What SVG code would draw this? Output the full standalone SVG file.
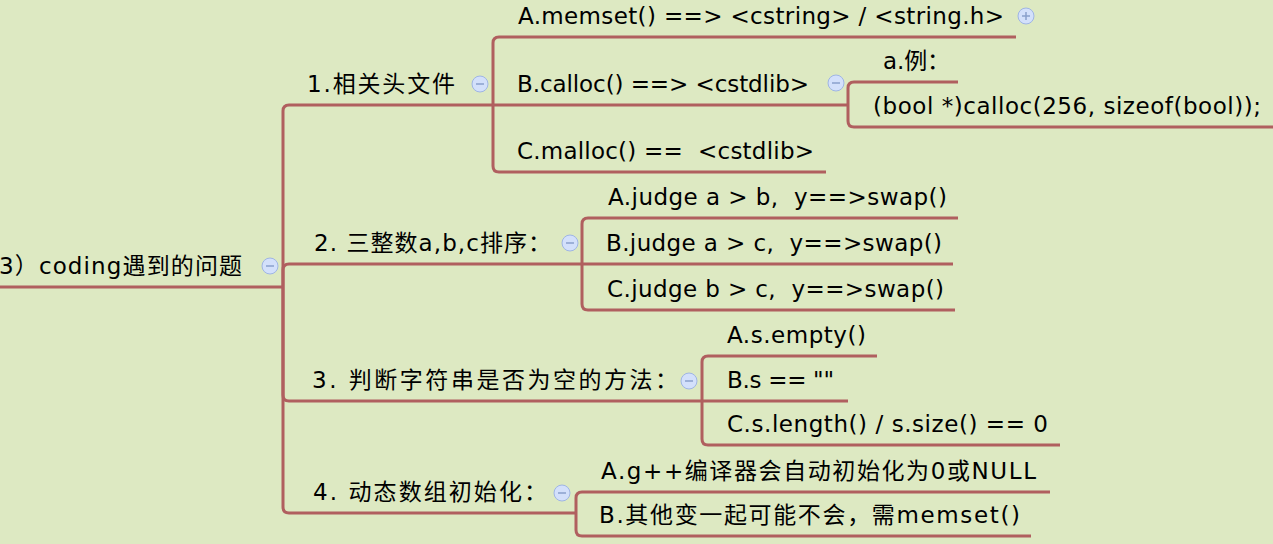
<svg xmlns="http://www.w3.org/2000/svg" width="1273" height="544" viewBox="0 0 1273 544">
<style>
.bg{fill:#dde9c2}
.ln{fill:none;stroke:#b05f5f;stroke-width:3;stroke-linecap:butt}
.t{font-family:"DejaVu Sans","Noto Sans CJK SC",sans-serif;font-size:23px;fill:#000;white-space:pre}
.ic{fill:#d3e0fb;stroke:#9fb5e4;stroke-width:1}
.im{stroke:#8aa0cc;stroke-width:1.5;fill:none}
</style>
<defs>
<g id="minus"><circle class="ic" cx="0" cy="0" r="8"/><path class="im" d="M-4,0H4"/></g>
<g id="plus"><circle class="ic" cx="0" cy="0" r="8"/><path class="im" d="M-4,0H4M0,-4V4"/></g>
</defs>
<rect class="bg" x="0" y="0" width="1273" height="544"/>

<g id="connectors">
<path class="ln" d="M283,287 V111 Q283,105 289,105"/>
<path class="ln" d="M283,287 V270 Q283,264 289,264"/>
<path class="ln" d="M283,287 V395 Q283,401 289,401"/>
<path class="ln" d="M283,287 V507 Q283,513 289,513"/>
<path class="ln" d="M493,105 V43 Q493,37 499,37"/>
<path class="ln" d="M493,105 V166 Q493,172 499,172"/>
<path class="ln" d="M848,105 V88 Q848,82 854,82"/>
<path class="ln" d="M848,105 V121 Q848,127 854,127"/>
<path class="ln" d="M582,264 V224 Q582,218 588,218"/>
<path class="ln" d="M582,264 V304 Q582,310 588,310"/>
<path class="ln" d="M702,401 V362 Q702,356 708,356"/>
<path class="ln" d="M702,401 V439 Q702,445 708,445"/>
<path class="ln" d="M576,513 V498 Q576,492 582,492"/>
<path class="ln" d="M576,513 V530 Q576,536 582,536"/>
</g>

<g id="root">
<path class="ln" d="M0,287 H283"/>
<text class="t" x="-1" y="274" textLength="243">3）coding遇到的问题</text>
<use href="#minus" x="270" y="266"/>
</g>

<g id="n1">
<path class="ln" d="M289,105 H493"/>
<text class="t" x="307" y="92" textLength="148">1.相关头文件</text>
<use href="#minus" x="480" y="84"/>
</g>
<g id="n1a">
<path class="ln" d="M499,37 H1016"/>
<text class="t" x="518" y="24" textLength="486">A.memset() ==&gt; &lt;cstring&gt; / &lt;string.h&gt;</text>
<use href="#plus" x="1026" y="16"/>
</g>
<g id="n1b">
<path class="ln" d="M493,105 H848"/>
<text class="t" x="517" y="92" textLength="292">B.calloc() ==&gt; &lt;cstdlib&gt;</text>
<use href="#minus" x="836" y="83"/>
</g>
<g id="n1b1">
<path class="ln" d="M854,82 H958"/>
<text class="t" x="883" y="69" textLength="67">a.例：</text>
</g>
<g id="n1b2">
<path class="ln" d="M854,127 H1273"/>
<text class="t" x="873" y="114" textLength="388">(bool *)calloc(256, sizeof(bool));</text>
</g>
<g id="n1c">
<path class="ln" d="M499,172 H826"/>
<text class="t" x="517" y="159" textLength="297">C.malloc() ==  &lt;cstdlib&gt;</text>
</g>

<g id="n2">
<path class="ln" d="M289,264 H582"/>
<text class="t" x="314" y="251" textLength="237">2. 三整数a,b,c排序：</text>
<use href="#minus" x="570" y="243"/>
</g>
<g id="n2a">
<path class="ln" d="M588,218 H958"/>
<text class="t" x="608" y="205" textLength="339">A.judge a &gt; b,  y==&gt;swap()</text>
</g>
<g id="n2b">
<path class="ln" d="M582,264 H953"/>
<text class="t" x="606" y="251" textLength="336">B.judge a &gt; c,  y==&gt;swap()</text>
</g>
<g id="n2c">
<path class="ln" d="M588,310 H955"/>
<text class="t" x="607" y="297" textLength="337">C.judge b &gt; c,  y==&gt;swap()</text>
</g>

<g id="n3">
<path class="ln" d="M289,401 H702"/>
<text class="t" x="312" y="388" textLength="366">3. 判断字符串是否为空的方法：</text>
<use href="#minus" x="689" y="381"/>
</g>
<g id="n3a">
<path class="ln" d="M708,356 H877"/>
<text class="t" x="727" y="343" textLength="139">A.s.empty()</text>
</g>
<g id="n3b">
<path class="ln" d="M702,401 H848"/>
<text class="t" x="727" y="388" textLength="107">B.s == ""</text>
</g>
<g id="n3c">
<path class="ln" d="M708,445 H1060"/>
<text class="t" x="727" y="432" textLength="321">C.s.length() / s.size() == 0</text>
</g>

<g id="n4">
<path class="ln" d="M289,513 H576"/>
<text class="t" x="313" y="500" textLength="234">4. 动态数组初始化：</text>
<use href="#minus" x="562" y="493"/>
</g>
<g id="n4a">
<path class="ln" d="M582,492 H1050"/>
<text class="t" x="601" y="479" textLength="435">A.g++编译器会自动初始化为0或NULL</text>
</g>
<g id="n4b">
<path class="ln" d="M582,536 H1031"/>
<text class="t" x="599" y="523" textLength="421">B.其他变一起可能不会，需memset()</text>
</g>
</svg>
